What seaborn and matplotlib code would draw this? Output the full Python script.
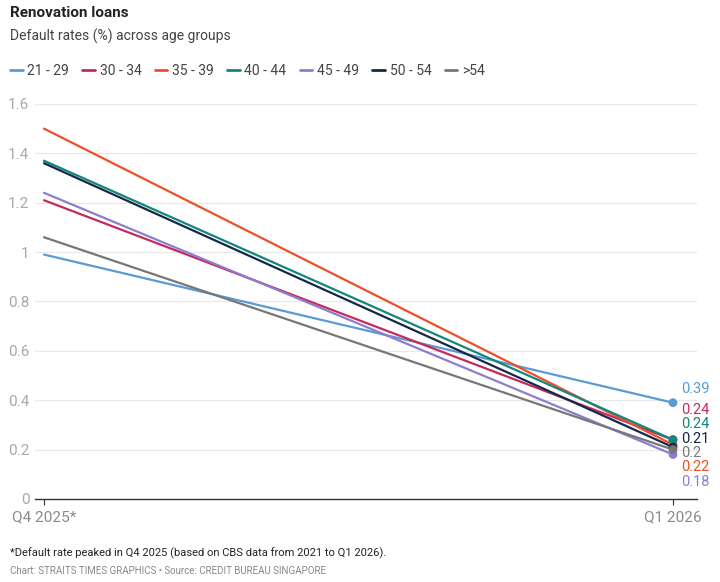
import matplotlib
matplotlib.use("Agg")
import matplotlib.pyplot as plt
import seaborn as sns
import pandas as pd

periods = ["Q4 2025*", "Q1 2026"]
groups = ["21 - 29", "30 - 34", "35 - 39", "40 - 44", "45 - 49", "50 - 54", ">54"]
start_vals = [0.99, 1.21, 1.50, 1.37, 1.24, 1.36, 1.06]
end_vals = [0.39, 0.24, 0.22, 0.24, 0.18, 0.21, 0.20]
colors = ["#5b9bd5", "#c42a5b", "#ef4f26", "#12877a", "#8d7dd1", "#14284a", "#777777"]
label_order = ["21 - 29", "30 - 34", "40 - 44", "50 - 54", ">54", "35 - 39", "45 - 49"]
yticks = [0, 0.2, 0.4, 0.6, 0.8, 1, 1.2, 1.4, 1.6]
ytick_labels = ["0", "0.2", "0.4", "0.6", "0.8", "1", "1.2", "1.4", "1.6"]

sns.set_theme(style="white")
plt.rcParams["font.family"] = ["Roboto", "DejaVu Sans"]

rows = []
for g, s, e in zip(groups, start_vals, end_vals):
    rows.append({"x": 0, "group": g, "value": s})
    rows.append({"x": 1, "group": g, "value": e})
df = pd.DataFrame(rows)
palette = dict(zip(groups, colors))

fig = plt.figure(figsize=(7.2, 5.82), dpi=100)
ax = fig.add_axes([35 / 720, 83 / 582, 662 / 720, 400 / 582])

sns.lineplot(data=df, x="x", y="value", hue="group", palette=palette, linewidth=1.6,
             ax=ax, legend=False, zorder=3)
end_df = df[df["x"] == 1]
sns.scatterplot(data=end_df, x="x", y="value", hue="group", palette=palette, s=40,
                edgecolor="none", ax=ax, legend=False, zorder=4)

ax.set_xlim(-9 / 629, 1 + 24 / 629)
ax.set_ylim(0, 1.62)
ax.set_yticks(yticks)
ax.set_yticklabels(ytick_labels)
ax.set_xticks([0, 1])
ax.set_xticklabels(periods)
ax.set_xlabel("")
ax.set_ylabel("")
for sp in ["top", "right", "left"]:
    ax.spines[sp].set_visible(False)
ax.spines["bottom"].set_color("#333333")
ax.spines["bottom"].set_linewidth(1.0)
ax.tick_params(axis="y", length=0, pad=4, labelsize=11, labelcolor="#a8a8a8")
ax.tick_params(axis="x", length=4, width=0.8, color="#333333", direction="out",
               pad=4, labelsize=11, labelcolor="#8a8a8a", bottom=True)
for t in yticks[1:]:
    ax.axhline(t, color="#e8e8e8", linewidth=0.9, zorder=0)

# end labels: top label above its point, the rest stacked
val_map = dict(zip(groups, end_vals))
col_map = dict(zip(groups, colors))
ax.text(1 + 8 / 629, val_map[label_order[0]] + 0.055, f"{val_map[label_order[0]]:g}",
        color=col_map[label_order[0]], fontsize=10.5, va="center", ha="left")
rest = label_order[1:]
mean_v = sum(val_map[g] for g in rest) / len(rest)
step = 0.058
top = mean_v + step * (len(rest) - 1) / 2
for i, g in enumerate(rest):
    ax.text(1 + 8 / 629, top - i * step, f"{val_map[g]:g}", color=col_map[g],
            fontsize=10.5, va="center", ha="left", clip_on=False)

fig.text(10 / 720, 1 - 13 / 582, "Renovation loans", fontsize=11, fontweight="bold",
         color="#222222", va="center", ha="left")
fig.text(10 / 720, 1 - 36 / 582, "Default rates (%) across age groups", fontsize=10,
         color="#444444", va="center", ha="left")

handles = [plt.Line2D([0], [0], color=c, linewidth=2) for c in colors]
leg = fig.legend(handles, groups, loc="center left", bbox_to_anchor=(10 / 720, 1 - 71 / 582),
                 ncol=7, frameon=False, handlelength=0.9, handletextpad=0.35,
                 columnspacing=0.95, fontsize=10, borderpad=0, borderaxespad=0)
for t in leg.get_texts():
    t.set_color("#444444")

fig.text(10 / 720, 1 - 553 / 582,
         "*Default rate peaked in Q4 2025 (based on CBS data from 2021 to Q1 2026).",
         fontsize=8, color="#222222", va="center", ha="left")
fig.text(10 / 720, 1 - 571 / 582,
         "Chart: STRAITS TIMES GRAPHICS \u2022 Source: CREDIT BUREAU SINGAPORE",
         fontsize=7, color="#888888", va="center", ha="left")

fig.savefig("out.png", dpi=100)
